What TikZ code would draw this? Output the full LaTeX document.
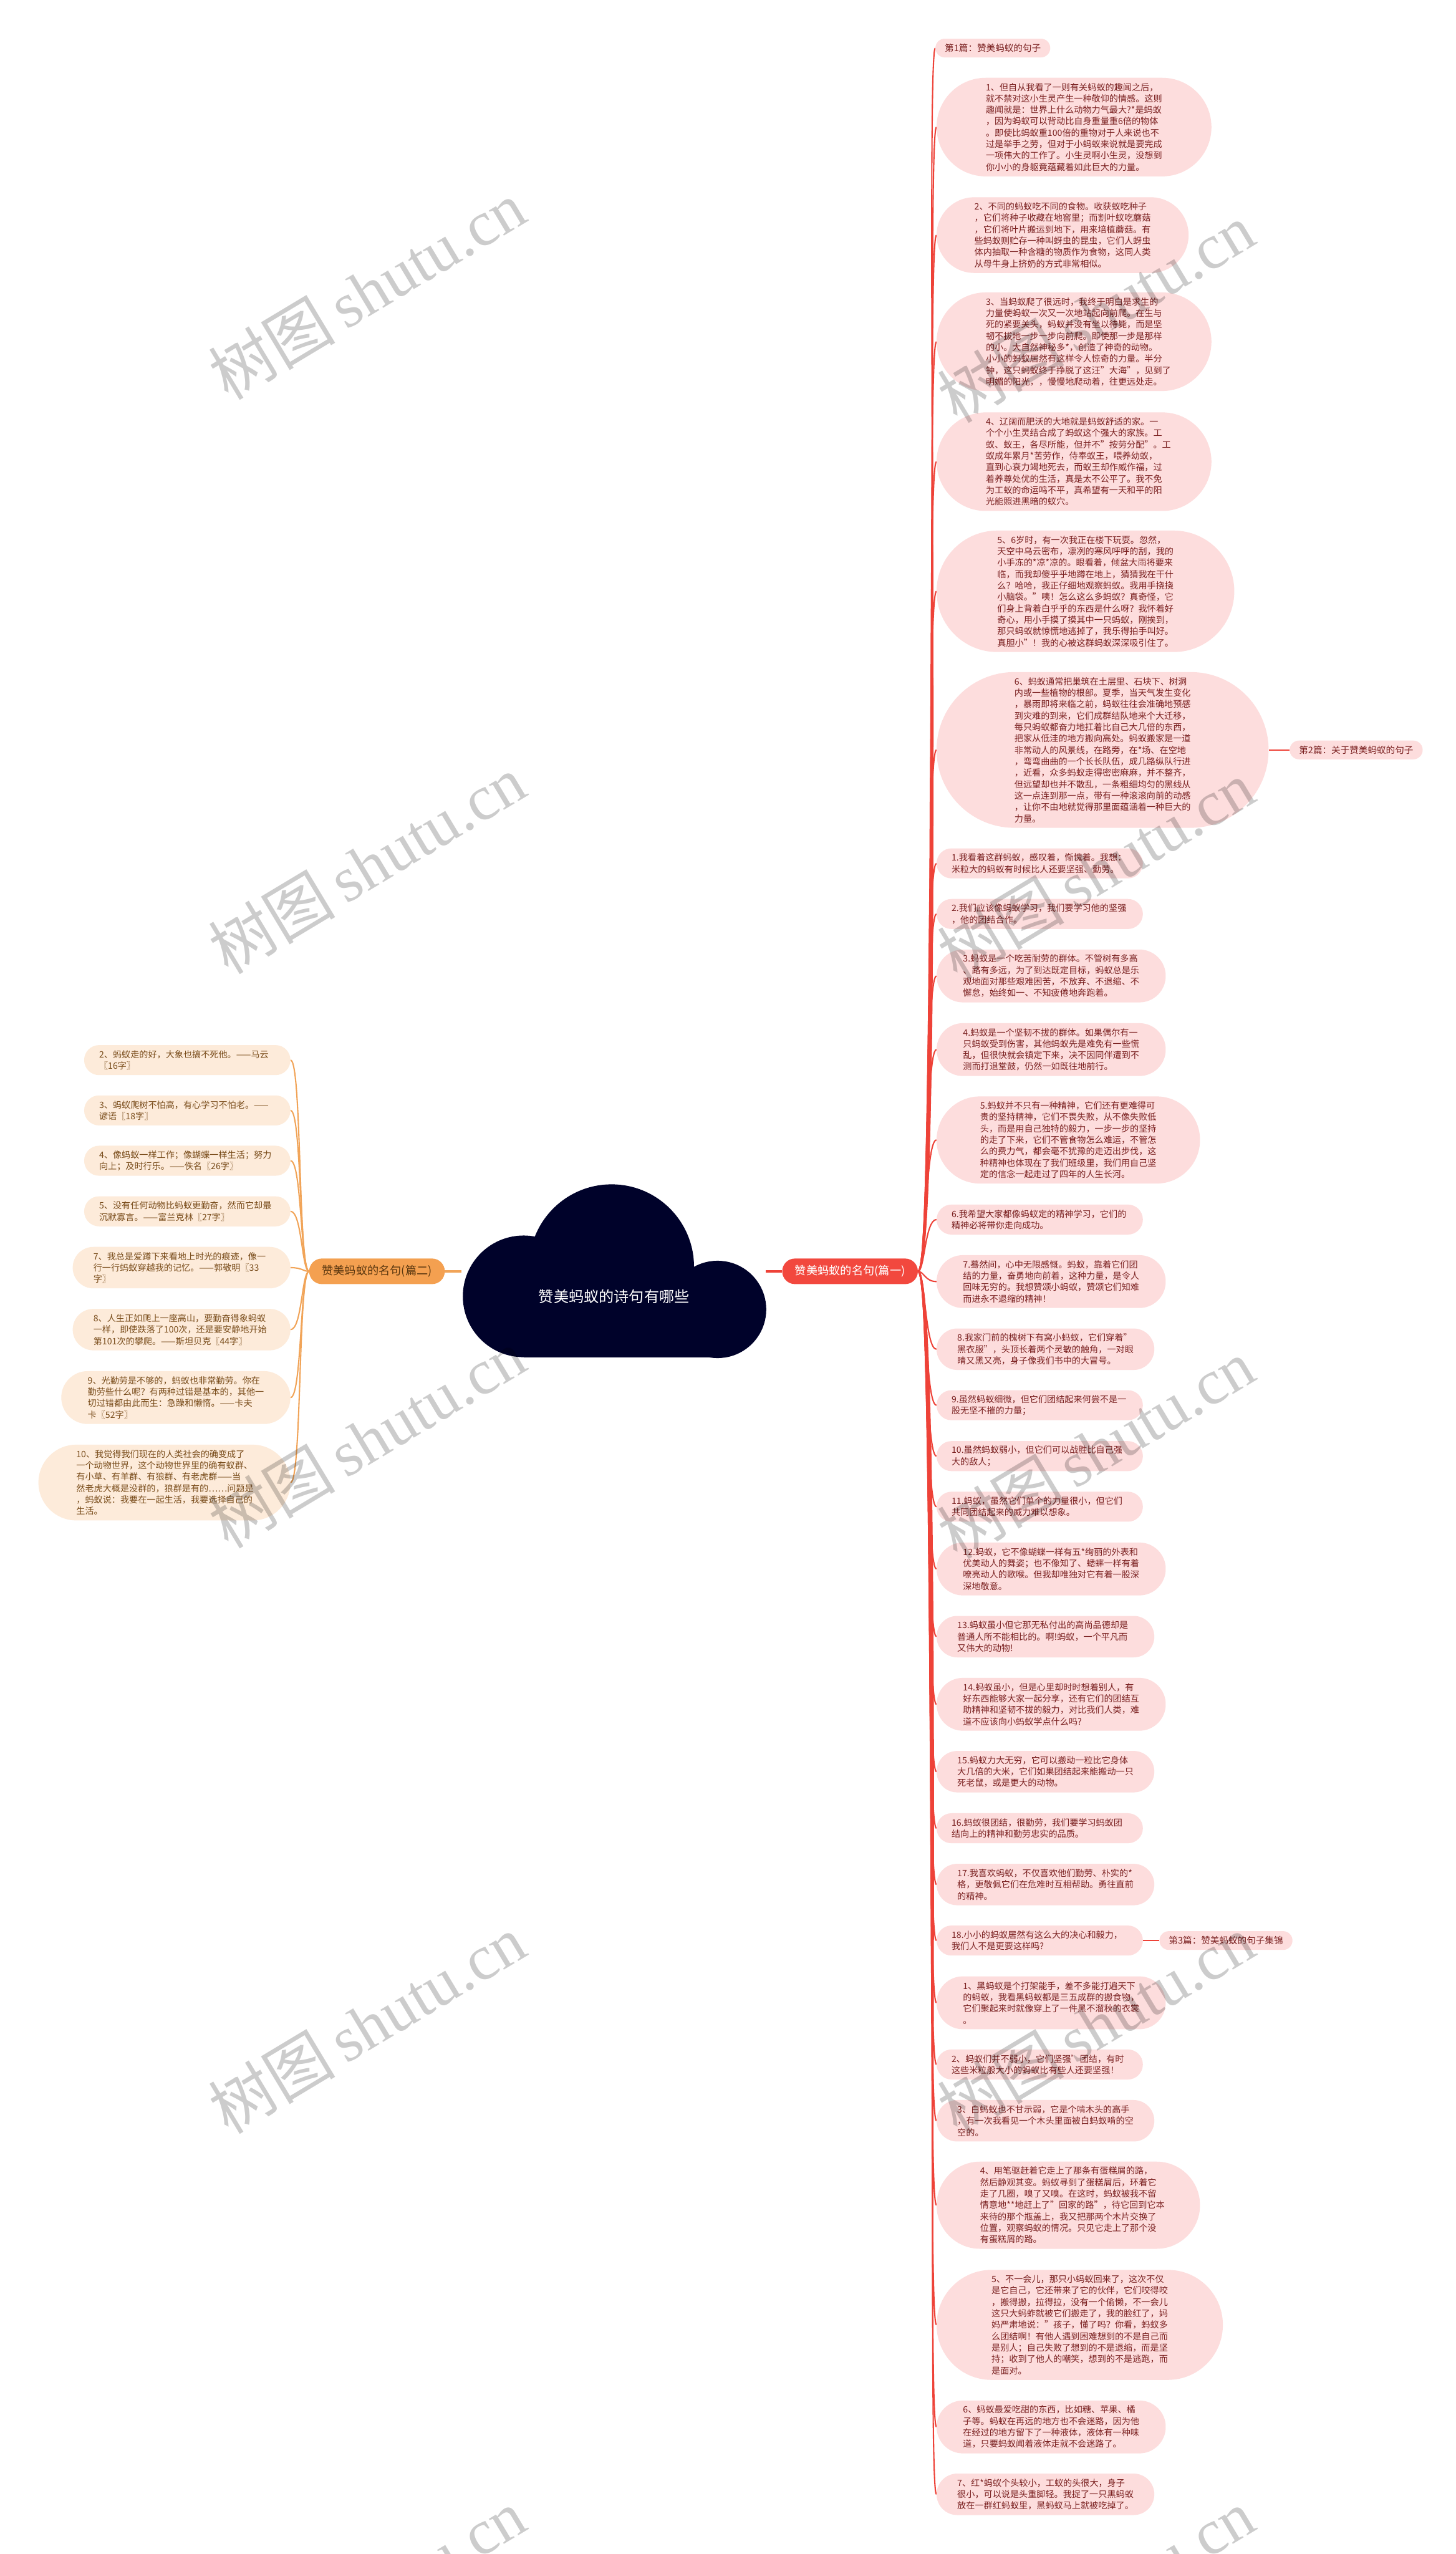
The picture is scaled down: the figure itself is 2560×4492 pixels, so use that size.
\documentclass[tikz,border=0pt]{standalone}
\usepackage{fontspec}
\setmainfont{Noto Sans CJK SC}
\newfontfamily\wmserif{Liberation Serif}
\usetikzlibrary{backgrounds,calc}
\definecolor{rline}{RGB}{238,66,56}
\definecolor{rbfill}{RGB}{242,72,62}
\definecolor{pinkfill}{RGB}{253,221,221}
\definecolor{pinktext}{RGB}{122,32,32}
\definecolor{oline}{RGB}{241,164,88}
\definecolor{obfill}{RGB}{244,160,80}
\definecolor{obtext}{RGB}{90,55,15}
\definecolor{peachfill}{RGB}{253,235,218}
\definecolor{peachtext}{RGB}{120,75,25}
\definecolor{cloudfill}{RGB}{0,2,42}
\begin{document}
\begin{tikzpicture}[x=1pt,y=-1pt,
  leafbase/.style={rectangle, text width=310pt, align=left,
    inner ysep=0pt,
    font=\fontsize{15.5pt}{20.1pt}\selectfont},
  rleaf/.style={leafbase, fill=pinkfill, text=pinktext, anchor=west,
    minimum height=20.1pt*#1+12.6pt, inner xsep=10.05pt*#1+6.3pt,
    rounded corners=10.05pt*#1+6.2pt},
  lleaf/.style={leafbase, fill=peachfill, text=peachtext, anchor=east,
    minimum height=20.1pt*#1+12.6pt, inner xsep=10.05pt*#1+6.3pt,
    rounded corners=10.05pt*#1+6.2pt},
  rlabel/.style={rectangle, fill=pinkfill, text=pinktext, anchor=west,
    inner xsep=16.5pt, inner ysep=0pt, minimum height=33pt,
    rounded corners=16.4pt, font=\fontsize{16pt}{19pt}\selectfont},
  branch/.style={rectangle, inner xsep=22.5pt, inner ysep=0pt,
    minimum height=45pt, rounded corners=22.4pt,
    font=\fontsize{20pt}{24pt}\selectfont},
  rconn/.style={draw=rline, line width=2.3pt},
  oconn/.style={draw=oline, line width=2.3pt},
  wmark/.style={rotate=31, text=black, text opacity=0.2,
    font=\fontsize{112pt}{120pt}\selectfont, inner sep=0pt}
]
\useasboundingbox (0,0) rectangle (2560,4492);

% ---------- cloud ----------
\fill[cloudfill] (1075.6,2228) circle[radius=145];
\fill[cloudfill] (921,2280) circle[radius=107];
\fill[cloudfill] (1262,2303) circle[radius=85.6];
\fill[cloudfill] (921,2228) rectangle (1262,2387);
\node[text=white, font=\fontsize{26.5pt}{30pt}\selectfont] (root) at (1080,2280) {赞美蚂蚁的诗句有哪些};
\coordinate (cR) at (1347,2236);
\coordinate (cL) at (812,2236);

% ---------- branches ----------
\node[branch, fill=rbfill, text=white] (rb) at (1495,2236) {赞美蚂蚁的名句(篇一)};
\node[branch, fill=obfill, text=obtext] (lb) at (663,2236) {赞美蚂蚁的名句(篇二)};

% ---------- right: first set ----------
\node[rlabel] (ra) at (1645,84.5) {第1篇：赞美蚂蚁的句子};
\node[rleaf=8] (r1) at (1647,223.5) {1、但自从我看了一则有关蚂蚁的趣闻之后，\\就不禁对这小生灵产生一种敬仰的情感。这则\\趣闻就是：世界上什么动物力气最大?*是蚂蚁\\，因为蚂蚁可以背动比自身重量重6倍的物体\\。即使比蚂蚁重100倍的重物对于人来说也不\\过是举手之劳，但对于小蚂蚁来说就是要完成\\一项伟大的工作了。小生灵啊小生灵，没想到\\你小小的身躯竟蕴藏着如此巨大的力量。};
\node[rleaf=6] (r2) at (1647,413.5) {2、不同的蚂蚁吃不同的食物。收获蚁吃种子\\，它们将种子收藏在地窖里；而割叶蚁吃蘑菇\\，它们将叶片搬运到地下，用来培植蘑菇。有\\些蚂蚁则贮存一种叫蚜虫的昆虫，它们人蚜虫\\体内抽取一种含糖的物质作为食物，这同人类\\从母牛身上挤奶的方式非常相似。};
\node[rleaf=8] (r3) at (1647,601) {3、当蚂蚁爬了很远时，我终于明白是求生的\\力量使蚂蚁一次又一次地站起向前爬。在生与\\死的紧要关头，蚂蚁并没有坐以待毙，而是坚\\韧不拔地一步一步向前爬。即使那一步是那样\\的小。大自然神秘多*，创造了神奇的动物。\\小小的蚂蚁居然有这样令人惊奇的力量。半分\\钟，这只蚂蚁终于挣脱了这汪"大海"，见到了\\明媚的阳光，，慢慢地爬动着，往更远处走。};
\node[rleaf=8] (r4) at (1647,812) {4、辽阔而肥沃的大地就是蚂蚁舒适的家。一\\个个小生灵结合成了蚂蚁这个强大的家族。工\\蚁、蚁王，各尽所能，但并不"按劳分配"。工\\蚁成年累月*苦劳作，侍奉蚁王，喂养幼蚁，\\直到心衰力竭地死去，而蚁王却作威作福，过\\着养尊处优的生活，真是太不公平了。我不免\\为工蚁的命运鸣不平，真希望有一天和平的阳\\光能照进黑暗的蚁穴。};
\node[rleaf=10] (r5) at (1647,1040) {5、6岁时，有一次我正在楼下玩耍。忽然，\\天空中乌云密布，凛冽的寒风呼呼的刮，我的\\小手冻的*凉*凉的。眼看着，倾盆大雨将要来\\临，而我却傻乎乎地蹲在地上，猜猜我在干什\\么？哈哈，我正仔细地观察蚂蚁。我用手挠挠\\小脑袋。"咦！怎么这么多蚂蚁？真奇怪，它\\们身上背着白乎乎的东西是什么呀？我怀着好\\奇心，用小手摸了摸其中一只蚂蚁，刚挨到，\\那只蚂蚁就惊慌地逃掉了，我乐得拍手叫好。\\真胆小"！我的心被这群蚂蚁深深吸引住了。};
\node[rleaf=13] (r6) at (1647,1319) {6、蚂蚁通常把巢筑在土层里、石块下、树洞\\内或一些植物的根部。夏季，当天气发生变化\\，暴雨即将来临之前，蚂蚁往往会准确地预感\\到灾难的到来，它们成群结队地来个大迁移，\\每只蚂蚁都奋力地扛着比自己大几倍的东西，\\把家从低洼的地方搬向高处。蚂蚁搬家是一道\\非常动人的风景线，在路旁，在*场、在空地\\，弯弯曲曲的一个长长队伍，成几路纵队行进\\，近看，众多蚂蚁走得密密麻麻，并不整齐，\\但远望却也并不散乱，一条粗细均匀的黑线从\\这一点连到那一点，带有一种滚滚向前的动感\\，让你不由地就觉得那里面蕴涵着一种巨大的\\力量。};
\node[rlabel] (rb2) at (2268,1319) {第2篇：关于赞美蚂蚁的句子};

% ---------- right: second set ----------
\node[rleaf=2] (s1) at (1647,1518.5) {1.我看着这群蚂蚁，感叹着，惭愧着。我想：\\米粒大的蚂蚁有时候比人还要坚强、勤劳。};
\node[rleaf=2] (s2) at (1647,1607.5) {2.我们应该像蚂蚁学习，我们要学习他的坚强\\，他的团结合作。};
\node[rleaf=4] (s3) at (1647,1716.5) {3.蚂蚁是一个吃苦耐劳的群体。不管树有多高\\、路有多远，为了到达既定目标，蚂蚁总是乐\\观地面对那些艰难困苦，不放弃、不退缩、不\\懈怠，始终如一、不知疲倦地奔跑着。};
\node[rleaf=4] (s4) at (1647,1846) {4.蚂蚁是一个坚韧不拔的群体。如果偶尔有一\\只蚂蚁受到伤害，其他蚂蚁先是难免有一些慌\\乱，但很快就会镇定下来，决不因同伴遭到不\\测而打退堂鼓，仍然一如既往地前行。};
\node[rleaf=7] (s5) at (1647,2005) {5.蚂蚁并不只有一种精神，它们还有更难得可\\贵的坚持精神，它们不畏失败，从不像失败低\\头，而是用自己独特的毅力，一步一步的坚持\\的走了下来，它们不管食物怎么难运，不管怎\\么的费力气，都会毫不犹豫的走迈出步伐，这\\种精神也体现在了我们班级里，我们用自己坚\\定的信念一起走过了四年的人生长河。};
\node[rleaf=2] (s6) at (1647,2145) {6.我希望大家都像蚂蚁定的精神学习，它们的\\精神必将带你走向成功。};
\node[rleaf=4] (s7) at (1647,2254) {7.蓦然间，心中无限感慨。蚂蚁，靠着它们团\\结的力量，奋勇地向前着，这种力量，是令人\\回味无穷的。我想赞颂小蚂蚁，赞颂它们知难\\而进永不退缩的精神！};
\node[rleaf=3] (s8) at (1647,2373) {8.我家门前的槐树下有窝小蚂蚁，它们穿着"\\黑衣服"，头顶长着两个灵敏的触角，一对眼\\睛又黑又亮，身子像我们书中的大冒号。};
\node[rleaf=2] (s9) at (1647,2471.5) {9.虽然蚂蚁细微，但它们团结起来何尝不是一\\股无坚不摧的力量；};
\node[rleaf=2] (s10) at (1647,2561) {10.虽然蚂蚁弱小，但它们可以战胜比自己强\\大的敌人；};
\node[rleaf=2] (s11) at (1647,2650) {11.蚂蚁，虽然它们单个的力量很小，但它们\\共同团结起来的威力难以想象。};
\node[rleaf=4] (s12) at (1647,2759.5) {12.蚂蚁，它不像蝴蝶一样有五*绚丽的外表和\\优美动人的舞姿；也不像知了、蟋蟀一样有着\\嘹亮动人的歌喉。但我却唯独对它有着一股深\\深地敬意。};
\node[rleaf=3] (s13) at (1647,2878.5) {13.蚂蚁虽小但它那无私付出的高尚品德却是\\普通人所不能相比的。啊!蚂蚁，一个平凡而\\又伟大的动物!};
\node[rleaf=4] (s14) at (1647,2997.5) {14.蚂蚁虽小，但是心里却时时想着别人，有\\好东西能够大家一起分享，还有它们的团结互\\助精神和坚韧不拔的毅力，对比我们人类，难\\道不应该向小蚂蚁学点什么吗?};
\node[rleaf=3] (s15) at (1647,3116) {15.蚂蚁力大无穷，它可以搬动一粒比它身体\\大几倍的大米，它们如果团结起来能搬动一只\\死老鼠，或是更大的动物。};
\node[rleaf=2] (s16) at (1647,3215.5) {16.蚂蚁很团结，很勤劳，我们要学习蚂蚁团\\结向上的精神和勤劳忠实的品质。};
\node[rleaf=3] (s17) at (1647,3314.5) {17.我喜欢蚂蚁，不仅喜欢他们勤劳、朴实的*\\格，更敬佩它们在危难时互相帮助。勇往直前\\的精神。};
\node[rleaf=2] (s18) at (1647,3413) {18.小小的蚂蚁居然有这么大的决心和毅力，\\我们人不是更要这样吗?};
\node[rlabel] (rb3) at (2039,3413) {第3篇：赞美蚂蚁的句子集锦};

% ---------- right: third set ----------
\node[rleaf=4] (t1) at (1647,3522.5) {1、黑蚂蚁是个打架能手，差不多能打遍天下\\的蚂蚁，我看黑蚂蚁都是三五成群的搬食物，\\它们聚起来时就像穿上了一件黑不溜秋的衣裳\\。};
\node[rleaf=2] (t2) at (1647,3631) {2、蚂蚁们并不弱小，它们坚强’团结，有时\\这些米粒般大小的蚂蚁比有些人还要坚强！};
\node[rleaf=3] (t3) at (1647,3730) {3、白蚂蚁也不甘示弱，它是个啃木头的高手\\，有一次我看见一个木头里面被白蚂蚁啃的空\\空的。};
\node[rleaf=7] (t4) at (1647,3878.5) {4、用笔驱赶着它走上了那条有蛋糕屑的路，\\然后静观其变。蚂蚁寻到了蛋糕屑后，环着它\\走了几圈，嗅了又嗅。在这时，蚂蚁被我不留\\情意地**地赶上了"回家的路"，待它回到它本\\来待的那个瓶盖上，我又把那两个木片交换了\\位置，观察蚂蚁的情况。只见它走上了那个没\\有蛋糕屑的路。};
\node[rleaf=9] (t5) at (1647,4089) {5、不一会儿，那只小蚂蚁回来了，这次不仅\\是它自己，它还带来了它的伙伴，它们咬得咬\\，搬得搬，拉得拉，没有一个偷懒，不一会儿\\这只大蚂蚱就被它们搬走了，我的脸红了，妈\\妈严肃地说："孩子，懂了吗？你看，蚂蚁多\\么团结啊！有他人遇到困难想到的不是自己而\\是别人；自己失败了想到的不是退缩，而是坚\\持；收到了他人的嘲笑，想到的不是逃跑，而\\是面对。};
\node[rleaf=4] (t6) at (1647,4268.5) {6、蚂蚁最爱吃甜的东西，比如糖、苹果、橘\\子等。蚂蚁在再远的地方也不会迷路，因为他\\在经过的地方留下了一种液体，液体有一种味\\道，只要蚂蚁闻着液体走就不会迷路了。};
\node[rleaf=3] (t7) at (1647,4387) {7、红*蚂蚁个头较小，工蚁的头很大，身子\\很小，可以说是头重脚轻。我捉了一只黑蚂蚁\\放在一群红蚂蚁里，黑蚂蚁马上就被吃掉了。};

% ---------- left ----------
\node[lleaf=2] (l2) at (511,1864.5) {2、蚂蚁走的好，大象也搞不死他。——马云\\〖16字〗};
\node[lleaf=2] (l3) at (511,1953) {3、蚂蚁爬树不怕高，有心学习不怕老。——\\谚语〖18字〗};
\node[lleaf=2] (l4) at (511,2041.5) {4、像蚂蚁一样工作；像蝴蝶一样生活；努力\\向上；及时行乐。——佚名〖26字〗};
\node[lleaf=2] (l5) at (511,2130.5) {5、没有任何动物比蚂蚁更勤奋，然而它却最\\沉默寡言。——富兰克林〖27字〗};
\node[lleaf=3] (l7) at (511,2229.5) {7、我总是爱蹲下来看地上时光的痕迹，像一\\行一行蚂蚁穿越我的记忆。——郭敬明〖33\\字〗};
\node[lleaf=3] (l8) at (511,2338.5) {8、人生正如爬上一座高山，要勤奋得象蚂蚁\\一样，即使跌落了100次，还是要安静地开始\\第101次的攀爬。——斯坦贝克〖44字〗};
\node[lleaf=4] (l9) at (511,2458) {9、光勤劳是不够的，蚂蚁也非常勤劳。你在\\勤劳些什么呢？有两种过错是基本的，其他一\\切过错都由此而生：急躁和懒惰。——卡夫\\卡〖52字〗};
\node[lleaf=6] (l10) at (511,2607.5) {10、我觉得我们现在的人类社会的确变成了\\一个动物世界，这个动物世界里的确有蚁群、\\有小草、有羊群、有狼群、有老虎群——当\\然老虎大概是没群的，狼群是有的……问题是\\，蚂蚁说：我要在一起生活，我要选择自己的\\生活。};

% ---------- watermarks ----------
\foreach \wy [count=\i] in {510,1520,2530,3560,4570}
  \node[wmark] (wl\i) at (645,\wy) {树图\,{\wmserif shutu.cn}};
\foreach \wy [count=\i] in {550,1530,2548,3560,4570}
  \node[wmark] (wr\i) at (1927,\wy) {树图\,{\wmserif shutu.cn}};

% ---------- connectors ----------
\begin{pgfonlayer}{background}
\fill[white] (0,0) rectangle (2560,4492);
\foreach \c in {ra,r1,r2,r3,r4,r5,r6,s1,s2,s3,s4,s5,s6,s7,s8,s9,s10,s11,s12,s13,s14,s15,s16,s17,s18,t1,t2,t3,t4,t5,t6,t7}
  \draw[rconn] let \p1=(rb.east), \p2=(\c.west), \n1={10+0.018*abs(\y2-\y1)} in
    (\p1) .. controls +(\n1,0) and +(-20,0) .. (\p2);
\foreach \c in {l2,l3,l4,l5,l7,l8,l9,l10}
  \draw[oconn] let \p1=(lb.west), \p2=(\c.east), \n1={10+0.025*abs(\y2-\y1)} in
    (\p1) .. controls +(-\n1,0) and +(20,0) .. (\p2);
\draw[rconn] (r6.east) -- (rb2.west);
\draw[rconn] (s18.east) -- (rb3.west);
\draw[draw=rline, line width=4.5pt] (cR) -- (rb.west);
\draw[draw=oline, line width=4.5pt] (cL) -- (lb.east);
\end{pgfonlayer}
\end{tikzpicture}
\end{document}
